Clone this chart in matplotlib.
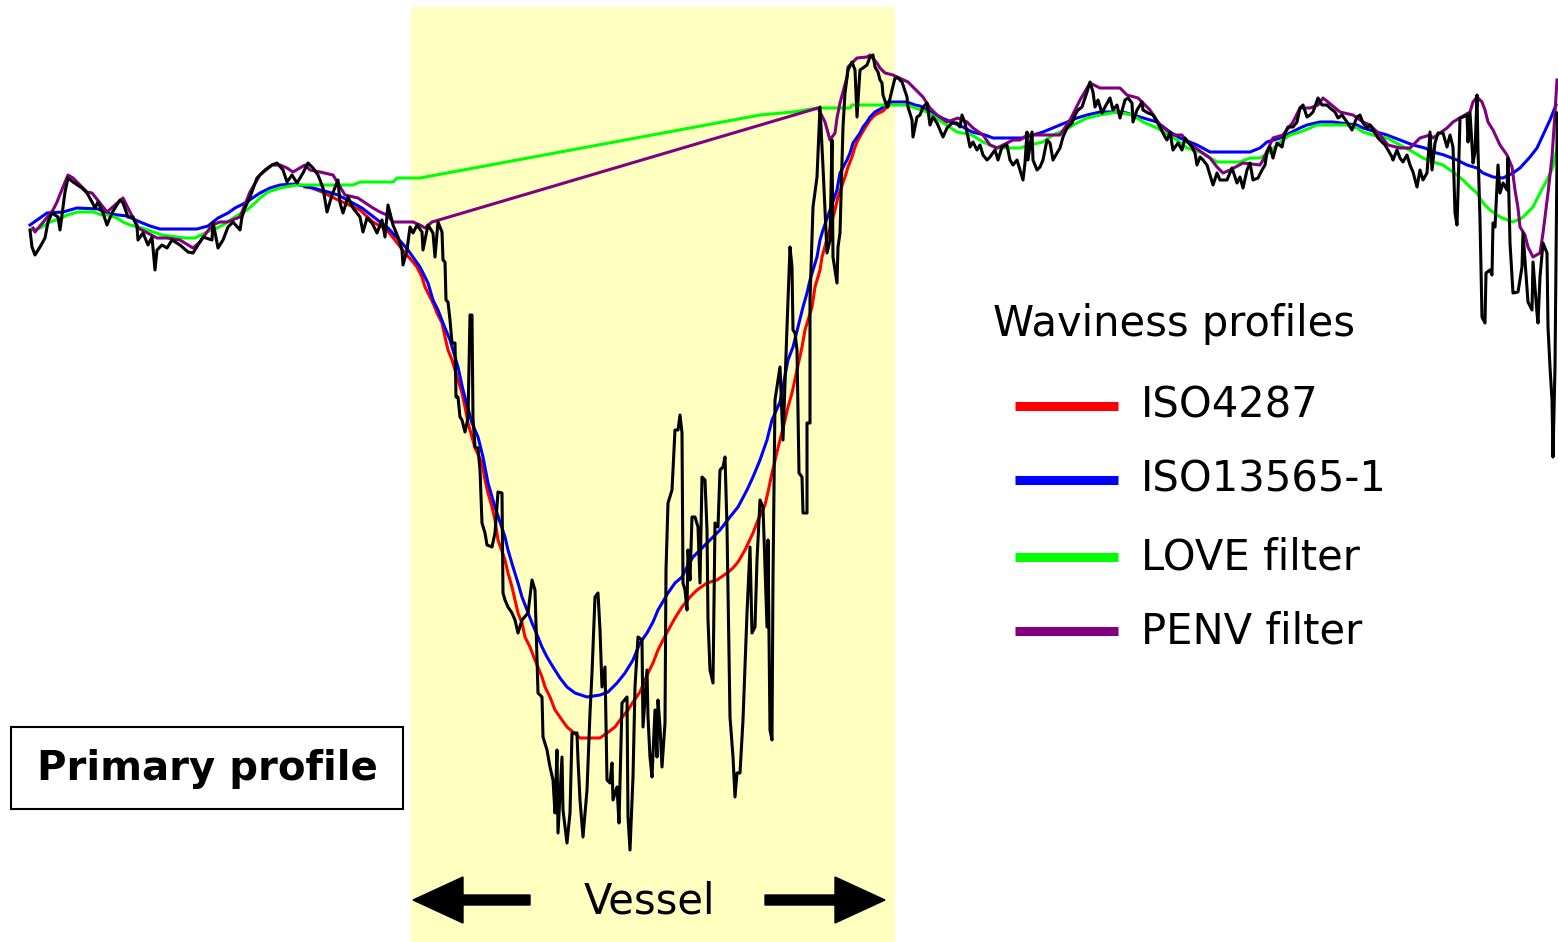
import matplotlib
matplotlib.use("Agg")
import matplotlib.pyplot as plt
from matplotlib.patches import Rectangle

# primary profile (pixel coords of the original picture, y grows downwards)
prim_x = [30, 32, 35, 40, 45, 48, 52, 58, 60, 65, 68, 73, 82, 87, 92, 95, 98, 103, 107, 112,
          115, 120, 123, 128, 133, 137, 138, 143, 148, 152, 155, 157, 162, 167, 172, 180, 188, 193, 198, 203,
          212, 213, 218, 223, 228, 233, 240, 242, 245, 250, 257, 265, 272, 277, 283, 287, 292, 297, 303, 308,
          313, 318, 323, 327, 332, 338, 340, 343, 348, 353, 360, 363, 367, 372, 377, 382, 385, 388, 393, 398,
          402, 403, 407, 410, 413, 417, 422, 423, 428, 433, 435, 438, 442, 443, 445, 446, 448, 450, 452, 455,
          456, 458, 460, 462, 465, 468, 470, 472, 473, 475, 478, 480, 482, 485, 487, 492, 495, 498, 502, 503,
          505, 508, 512, 515, 518, 522, 528, 532, 535, 537, 538, 542, 543, 547, 550, 553, 555, 557, 558, 562,
          563, 567, 570, 572, 577, 578, 580, 583, 587, 590, 592, 595, 598, 600, 602, 605, 607, 610, 612, 613,
          617, 619, 622, 627, 628, 630, 633, 635, 638, 642, 643, 647, 648, 650, 652, 655, 657, 658, 660, 662,
          665, 666, 668, 672, 675, 678, 680, 682, 683, 685, 687, 688, 690, 692, 695, 698, 700, 702, 705, 707,
          708, 710, 713, 715, 718, 720, 723, 725, 727, 730, 733, 735, 737, 740, 743, 747, 750, 752, 755, 757,
          760, 763, 767, 768, 770, 772, 773, 775, 780, 783, 787, 790, 792, 793, 795, 797, 799, 802, 803, 807,
          807, 810, 810, 813, 817, 820, 823, 827, 830, 832, 833, 837, 838, 840, 843, 845, 848, 852, 855, 857,
          860, 863, 867, 870, 873, 875, 878, 880, 882, 883, 887, 888, 892, 895, 898, 902, 907, 908, 912, 913,
          917, 920, 923, 927, 928, 930, 933, 937, 940, 943, 947, 952, 957, 960, 962, 965, 968, 970, 973, 977,
          980, 983, 987, 990, 995, 998, 1002, 1007, 1010, 1013, 1017, 1020, 1023, 1025, 1027, 1028, 1032, 1033, 1037, 1040,
          1043, 1047, 1050, 1053, 1057, 1060, 1063, 1067, 1072, 1075, 1078, 1082, 1085, 1087, 1090, 1093, 1095, 1098, 1102, 1105,
          1110, 1113, 1117, 1120, 1125, 1128, 1132, 1133, 1137, 1142, 1143, 1148, 1153, 1157, 1160, 1165, 1167, 1170, 1173, 1178,
          1182, 1185, 1188, 1192, 1195, 1197, 1200, 1203, 1207, 1210, 1213, 1217, 1220, 1227, 1232, 1237, 1240, 1243, 1247, 1250,
          1253, 1258, 1262, 1265, 1267, 1270, 1273, 1277, 1282, 1285, 1288, 1293, 1297, 1300, 1303, 1307, 1310, 1313, 1318, 1322,
          1327, 1330, 1335, 1338, 1342, 1347, 1352, 1357, 1360, 1363, 1367, 1370, 1375, 1378, 1382, 1385, 1388, 1392, 1393, 1397,
          1400, 1403, 1407, 1410, 1413, 1417, 1420, 1423, 1427, 1430, 1432, 1435, 1438, 1443, 1447, 1450, 1453, 1455, 1457, 1458,
          1460, 1463, 1467, 1468, 1470, 1472, 1473, 1475, 1477, 1478, 1480, 1482, 1485, 1486, 1490, 1492, 1493, 1495, 1497, 1498,
          1500, 1503, 1507, 1508, 1510, 1513, 1518, 1522, 1523, 1525, 1528, 1532, 1533, 1537, 1538, 1540, 1543, 1547, 1548, 1550,
          1552, 1553, 1555, 1557, 1557]
prim_y = [230, 247, 255, 247, 238, 222, 213, 217, 230, 192, 178, 182, 188, 193, 202, 208, 202, 213, 225, 213,
          208, 200, 203, 217, 217, 227, 240, 233, 245, 237, 270, 250, 245, 248, 240, 245, 252, 253, 245, 237,
          240, 222, 248, 240, 227, 222, 230, 217, 208, 197, 178, 170, 165, 163, 170, 182, 175, 183, 173, 163,
          168, 175, 188, 212, 195, 180, 203, 213, 197, 208, 217, 232, 218, 223, 233, 220, 237, 205, 225, 237,
          250, 265, 250, 227, 233, 225, 232, 250, 225, 233, 257, 222, 232, 260, 262, 300, 302, 320, 343, 343,
          397, 397, 417, 420, 432, 418, 315, 315, 418, 447, 448, 470, 523, 533, 545, 547, 533, 492, 493, 593,
          600, 607, 613, 620, 633, 620, 613, 580, 590, 657, 693, 697, 737, 750, 767, 780, 813, 750, 833, 757,
          810, 843, 813, 733, 733, 760, 800, 837, 790, 713, 673, 597, 593, 630, 687, 667, 780, 783, 763, 800,
          787, 823, 703, 697, 817, 850, 777, 687, 637, 640, 727, 670, 717, 757, 777, 710, 757, 700, 727, 767,
          723, 570, 503, 490, 430, 430, 415, 433, 583, 590, 610, 550, 580, 517, 517, 527, 583, 477, 480, 530,
          620, 670, 683, 523, 527, 470, 467, 457, 527, 717, 757, 797, 773, 773, 720, 613, 547, 633, 627, 560,
          500, 507, 627, 540, 730, 740, 577, 400, 367, 440, 327, 247, 267, 330, 333, 350, 473, 477, 513, 513,
          423, 423, 300, 207, 177, 107, 167, 253, 240, 140, 257, 283, 247, 233, 127, 93, 70, 62, 70, 117,
          70, 68, 65, 57, 55, 67, 72, 80, 83, 95, 107, 107, 90, 78, 78, 82, 97, 107, 120, 137,
          117, 115, 107, 103, 110, 125, 117, 123, 130, 137, 128, 123, 123, 127, 115, 123, 137, 147, 142, 150,
          145, 155, 160, 157, 150, 160, 147, 145, 160, 165, 160, 170, 180, 163, 132, 160, 132, 160, 170, 167,
          160, 140, 143, 160, 153, 148, 137, 128, 123, 115, 110, 107, 98, 92, 82, 92, 107, 100, 113, 107,
          98, 110, 105, 118, 100, 98, 103, 122, 110, 102, 110, 113, 115, 122, 127, 137, 140, 132, 150, 143,
          150, 138, 142, 147, 153, 165, 157, 160, 165, 175, 185, 173, 180, 180, 168, 183, 177, 188, 170, 163,
          180, 178, 170, 165, 152, 147, 158, 143, 147, 133, 127, 127, 122, 108, 105, 117, 115, 112, 98, 105,
          105, 108, 112, 118, 115, 122, 130, 117, 115, 123, 128, 125, 133, 138, 142, 145, 150, 157, 160, 150,
          158, 162, 155, 165, 172, 187, 170, 180, 173, 132, 170, 143, 133, 133, 147, 135, 147, 213, 225, 193,
          118, 117, 115, 142, 113, 145, 163, 152, 95, 150, 220, 317, 323, 273, 270, 275, 223, 227, 187, 165,
          193, 183, 190, 158, 243, 293, 292, 267, 233, 260, 302, 310, 262, 313, 323, 277, 243, 253, 327, 367,
          400, 457, 367, 157, 113]

# ISO4287
iso4287_x = [305, 312, 322, 338, 360, 373, 387, 405, 413, 417, 422, 425, 430, 433, 437, 442, 445, 448, 452, 458,
             462, 465, 468, 472, 475, 482, 485, 488, 492, 495, 498, 505, 508, 512, 515, 518, 522, 525, 530, 535,
             542, 545, 550, 555, 562, 567, 573, 580, 600, 607, 615, 620, 628, 633, 640, 648, 653, 658, 663, 670,
             675, 682, 690, 697, 707, 717, 727, 733, 738, 745, 753, 758, 765, 768, 772, 778, 785, 788, 792, 802,
             805, 812, 815, 820, 822, 835, 838, 845, 848, 852, 855, 858, 862, 865, 870, 875, 883, 890]
iso4287_y = [187, 188, 192, 200, 210, 222, 230, 253, 262, 267, 277, 287, 297, 303, 313, 323, 337, 350, 360, 380,
             393, 407, 423, 437, 448, 463, 480, 493, 507, 520, 540, 560, 573, 587, 600, 613, 623, 637, 647, 660,
             677, 687, 697, 710, 720, 727, 732, 738, 738, 733, 727, 720, 710, 702, 692, 673, 663, 650, 640, 627,
             618, 607, 597, 590, 583, 580, 573, 568, 562, 550, 533, 520, 505, 492, 473, 448, 420, 407, 393, 347,
             330, 307, 287, 270, 257, 210, 197, 177, 167, 157, 147, 140, 133, 128, 120, 115, 111, 104]

# ISO13565-1
iso13565_x = [30, 40, 47, 63, 77, 98, 110, 127, 140, 150, 160, 197, 208, 218, 228, 235, 245, 260, 270, 280,
              295, 313, 328, 338, 362, 375, 388, 402, 408, 415, 420, 428, 433, 438, 443, 450, 458, 463, 472, 478,
              483, 488, 495, 505, 508, 513, 518, 522, 527, 532, 538, 542, 547, 553, 560, 567, 575, 587, 600, 608,
              617, 625, 633, 640, 647, 653, 658, 668, 675, 682, 687, 693, 703, 710, 720, 730, 738, 747, 753, 760,
              767, 772, 780, 788, 793, 798, 803, 807, 810, 817, 820, 823, 837, 840, 847, 850, 853, 860, 863, 867,
              870, 875, 882, 888, 907, 915, 920, 942, 963, 972, 985, 993, 1023, 1043, 1060, 1077, 1087, 1100, 1123, 1157,
              1170, 1180, 1197, 1210, 1250, 1260, 1267, 1280, 1300, 1307, 1320, 1333, 1357, 1363, 1387, 1400, 1413, 1425, 1433, 1444,
              1457, 1467, 1477, 1483, 1493, 1503, 1513, 1520, 1530, 1537, 1543, 1550, 1556]
iso13565_y = [225, 218, 213, 212, 208, 209, 214, 216, 222, 226, 229, 229, 226, 218, 213, 208, 203, 193, 188, 185,
              184, 188, 192, 195, 208, 218, 228, 243, 250, 260, 267, 283, 300, 310, 323, 340, 367, 390, 423, 437,
              457, 483, 507, 537, 550, 567, 583, 597, 610, 623, 637, 647, 657, 667, 678, 687, 693, 697, 695, 692,
              683, 673, 660, 643, 633, 622, 610, 593, 583, 577, 567, 557, 547, 540, 530, 517, 507, 490, 477, 460,
              440, 420, 402, 360, 347, 327, 307, 293, 280, 257, 240, 230, 190, 173, 160, 153, 143, 133, 127, 122,
              117, 112, 108, 102, 102, 105, 106, 118, 127, 132, 135, 138, 138, 132, 125, 118, 115, 112, 112, 122,
              132, 138, 145, 152, 152, 148, 142, 138, 128, 125, 122, 122, 125, 128, 135, 140, 145, 148, 152, 155,
              160, 165, 168, 173, 177, 178, 173, 168, 157, 148, 135, 120, 105]

# LOVE filter
love_x = [32, 40, 50, 62, 67, 78, 93, 102, 108, 117, 123, 130, 142, 162, 185, 195, 207, 217, 223, 238,
          247, 255, 260, 268, 280, 297, 330, 353, 360, 393, 397, 420, 760, 793, 817, 850, 852, 907, 915, 927,
          942, 957, 972, 983, 990, 998, 1020, 1030, 1043, 1053, 1065, 1077, 1087, 1100, 1117, 1133, 1143, 1157, 1177, 1187,
          1200, 1217, 1240, 1250, 1260, 1270, 1280, 1290, 1300, 1310, 1317, 1347, 1357, 1363, 1373, 1387, 1400, 1413, 1423, 1433,
          1443, 1450, 1457, 1463, 1470, 1477, 1483, 1490, 1500, 1513, 1522, 1527, 1533, 1540, 1547, 1553, 1557]
love_y = [230, 228, 222, 218, 215, 212, 212, 215, 215, 218, 222, 225, 228, 235, 238, 238, 232, 228, 225, 215,
          210, 203, 198, 192, 188, 185, 185, 185, 182, 182, 178, 178, 115, 112, 108, 108, 105, 105, 108, 112,
          122, 132, 135, 142, 145, 148, 148, 145, 142, 135, 130, 123, 118, 115, 112, 115, 122, 128, 140, 148,
          152, 162, 162, 158, 158, 152, 142, 135, 132, 128, 125, 125, 128, 132, 135, 138, 145, 152, 158, 162,
          165, 170, 175, 180, 187, 193, 203, 210, 217, 222, 218, 213, 207, 193, 180, 167, 148]

# PENV filter
penv_x = [33, 35, 45, 53, 57, 63, 68, 73, 87, 92, 100, 107, 115, 123, 130, 137, 138, 157, 167, 180,
          193, 200, 212, 220, 227, 240, 250, 260, 272, 280, 287, 293, 305, 310, 320, 333, 345, 358, 373, 380,
          387, 393, 413, 420, 425, 432, 818, 825, 830, 835, 837, 840, 843, 847, 848, 852, 857, 867, 870, 877,
          880, 885, 893, 908, 913, 918, 923, 930, 937, 947, 958, 967, 973, 983, 990, 997, 1013, 1020, 1027, 1060,
          1070, 1080, 1090, 1100, 1120, 1127, 1138, 1150, 1160, 1173, 1182, 1187, 1210, 1217, 1223, 1230, 1243, 1260, 1263, 1273,
          1283, 1293, 1300, 1310, 1318, 1323, 1328, 1340, 1353, 1363, 1370, 1380, 1388, 1400, 1410, 1420, 1430, 1433, 1447, 1453,
          1470, 1473, 1477, 1482, 1485, 1488, 1493, 1500, 1507, 1512, 1515, 1518, 1520, 1525, 1528, 1533, 1540, 1543, 1548, 1552,
          1555, 1557]
penv_y = [228, 232, 220, 210, 202, 187, 175, 178, 192, 193, 203, 212, 205, 198, 212, 225, 228, 238, 238, 240,
          248, 242, 225, 222, 222, 217, 192, 175, 165, 165, 168, 172, 165, 170, 172, 175, 195, 198, 208, 212,
          215, 222, 222, 225, 228, 222, 108, 122, 140, 133, 118, 103, 92, 77, 67, 63, 58, 57, 55, 63,
          68, 73, 75, 82, 87, 92, 97, 108, 115, 122, 118, 122, 128, 135, 145, 148, 140, 140, 135, 135,
          120, 100, 83, 88, 88, 95, 98, 110, 125, 135, 135, 142, 158, 167, 173, 170, 163, 165, 160, 138,
          135, 122, 108, 108, 105, 98, 102, 112, 115, 122, 125, 135, 145, 148, 148, 138, 135, 138, 128, 122,
          112, 102, 97, 102, 110, 122, 130, 145, 155, 167, 190, 208, 227, 235, 247, 257, 253, 233, 193, 157,
          113, 80]

filters = [("ISO4287", iso4287_x, iso4287_y, "#ff0000"),
           ("ISO13565-1", iso13565_x, iso13565_y, "#0000ff"),
           ("LOVE filter", love_x, love_y, "#00ff00"),
           ("PENV filter", penv_x, penv_y, "#800080")]

fig = plt.figure(figsize=(15.58, 9.42), dpi=100)
ax = fig.add_axes([0, 0, 1, 1])
ax.set_xlim(0, 1558)
ax.set_ylim(942, 0)
ax.axis("off")

# vessel zone
ax.add_patch(Rectangle((411, 7), 484, 935, facecolor="#ffffc0", edgecolor="none", zorder=0))

for name, xs, ys, col in filters:
    ax.plot(xs, ys, color=col, lw=2.2, zorder=2)
ax.plot(prim_x, prim_y, color="black", lw=2.2, zorder=3)

# legend
ax.text(993, 336, "Waviness profiles", fontsize=30, va="baseline", ha="left")
leg_y = [406, 480, 557, 631]
for (name, xs, ys, col), ly in zip(filters, leg_y):
    ax.plot([1015, 1118], [ly, ly], color=col, lw=6.5, solid_capstyle="butt")
    ax.text(1141, ly + 12, name, fontsize=30, va="baseline", ha="left")

# primary profile label
ax.add_patch(Rectangle((11, 727), 392, 82, facecolor="white", edgecolor="black", lw=1.5, zorder=4))
ax.text(207, 780, "Primary profile", fontsize=29, fontweight="bold", ha="center", va="baseline", zorder=5)

# vessel arrows
ax.arrow(530, 900, -117, 0, width=10, head_width=46, head_length=50,
         length_includes_head=True, color="black", zorder=4)
ax.arrow(765, 900, 120, 0, width=10, head_width=46, head_length=50,
         length_includes_head=True, color="black", zorder=4)
ax.text(649, 913, "Vessel", fontsize=30, ha="center", va="baseline")

fig.savefig("out.png", dpi=100)
